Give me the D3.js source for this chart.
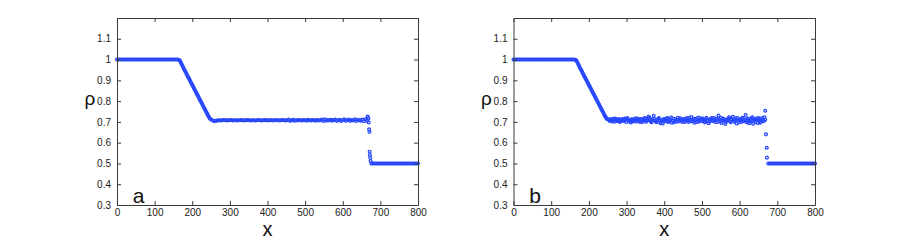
<!DOCTYPE html>
<html>
<head>
<meta charset="utf-8">
<script src="https://cdn.jsdelivr.net/npm/d3@7"></script>
<style>
  html, body { margin: 0; padding: 0; background: #fff; }
  svg { display: block; }
  text { font-family: "Liberation Sans", Arial, Helvetica, sans-serif; }
</style>
</head>
<body>
<svg id="chart" width="900" height="240"></svg>
<script>
// ---------------- DATA ----------------
const xTickLabels = [0, 100, 200, 300, 400, 500, 600, 700, 800];
const yTickLabels = [0.3, 0.4, 0.5, 0.6, 0.7, 0.8, 0.9, 1, 1.1];
const panelLabels = ["a", "b"];

// sampling grid (x positions of the particles)
const xGrid = [
  0,4,8,12,16,20,24,28,32,36,
  40,44,48,52,56,60,64,68,72,76,
  80,84,88,92,96,100,104,108,112,116,
  120,124,128,132,136,140,144,148,152,156,
  160,164,168,172,176,180,184,188,192,196,
  200,204,208,212,216,220,224,228,232,236,
  240,244,248,252,256,260,264,268,272,276,
  280,284,288,292,296,300,304,308,312,316,
  320,324,328,332,336,340,344,348,352,356,
  360,364,368,372,376,380,384,388,392,396,
  400,404,408,412,416,420,424,428,432,436,
  440,444,448,452,456,460,464,468,472,476,
  480,484,488,492,496,500,504,508,512,516,
  520,524,528,532,536,540,544,548,552,556,
  560,564,568,572,576,580,584,588,592,596,
  600,604,608,612,616,620,624,628,632,636,
  640,644,648,652,656,660,664,668,672,676,
  680,684,688,692,696,700,704,708,712,716,
  720,724,728,732,736,740,744,748,752,756,
  760,764,768,772,776,780,784,788,792,796,
  800
];

// extra particles between grid points in the rarefaction fan (both panels)
const rampMidX = [166,170,174,178,182,186,190,194,198,202,206,
                  210,214,218,222,226,230,234,238,242,246];
const rampMidRho = [0.997,0.985,0.970,0.955,0.941,0.927,0.913,0.899,0.885,0.871,0.857,
                    0.843,0.829,0.815,0.801,0.787,0.773,0.759,0.745,0.731,0.719];

// panel a density
const rhoA = [
  // 0 .. 160
  1,1,1,1,1,1,1,1,1,1, 1,1,1,1,1,1,1,1,1,1,
  1,1,1,1,1,1,1,1,1,1, 1,1,1,1,1,1,1,1,1,1, 1,
  // 164 .. 248 rarefaction
  0.999,0.992,0.977,0.962,0.948,0.934,0.920,0.906,0.892,0.878,0.864,
  0.850,0.836,0.822,0.808,0.794,0.780,0.766,0.752,0.738,0.725,0.714,
  // 252 .. 668 plateau
  0.709,0.705,0.704,0.706,0.707,0.708,0.707,0.708,0.709,0.708,
  0.707,0.708,0.708,0.709,0.707,0.708,0.708,0.707,0.708,0.709,
  0.708,0.707,0.708,0.708,0.709,0.708,0.707,0.708,0.708,0.707,
  0.708,0.709,0.708,0.707,0.708,0.708,0.709,0.707,0.708,0.708,
  0.708,0.707,0.709,0.708,0.708,0.707,0.708,0.709,0.708,0.707,
  0.708,0.711,0.705,0.708,0.710,0.706,0.708,0.707,0.709,0.708,
  0.707,0.709,0.708,0.706,0.710,0.708,0.707,0.709,0.708,0.706,
  0.709,0.707,0.708,0.711,0.704,0.712,0.706,0.709,0.707,0.710,
  0.706,0.709,0.711,0.705,0.708,0.710,0.704,0.709,0.712,0.706,
  0.708,0.711,0.705,0.709,0.707,0.712,0.704,0.710,0.708,0.706,
  0.711,0.703,0.713,0.706,0.715,
  // 672 shock
  0.541,
  // 676 .. 800
  0.5,0.5,0.5,0.5,0.5,0.5,0.5,0.5,0.5,0.5,0.5,0.5,0.5,0.5,0.5,0.5,
  0.5,0.5,0.5,0.5,0.5,0.5,0.5,0.5,0.5,0.5,0.5,0.5,0.5,0.5,0.5,0.5
];
const shockXA   = [666, 668, 669, 670, 671, 671.5, 673, 674];
const shockRhoA = [0.726, 0.717, 0.697, 0.664, 0.653, 0.556, 0.527, 0.512];

// panel b density
const rhoB = [
  // 0 .. 160
  1,1,1,1,1,1,1,1,1,1, 1,1,1,1,1,1,1,1,1,1,
  1,1,1,1,1,1,1,1,1,1, 1,1,1,1,1,1,1,1,1,1, 1,
  // 164 .. 248 rarefaction
  0.999,0.992,0.977,0.962,0.948,0.934,0.920,0.906,0.892,0.878,0.864,
  0.850,0.836,0.822,0.808,0.794,0.780,0.766,0.752,0.738,0.725,0.714,
  // 252 .. 668 plateau
  0.712,0.704,0.709,0.715,0.701,0.710,0.706,0.714,0.703,0.711,
  0.705,0.716,0.700,0.712,0.707,0.697,0.713,0.704,0.717,0.702,
  0.710,0.699,0.714,0.706,0.718,0.701,0.709,0.722,0.703,0.712,
  0.729,0.705,0.698,0.715,0.708,0.700,0.692,0.713,0.706,0.719,
  0.702,0.711,0.696,0.716,0.707,0.701,0.720,0.704,0.712,0.699,
  0.714,0.706,0.718,0.700,0.709,0.723,0.703,0.696,0.715,0.707,
  0.701,0.717,0.705,0.711,0.697,0.720,0.708,0.702,0.714,0.706,
  0.719,0.700,0.712,0.731,0.704,0.695,0.716,0.708,0.701,0.713,
  0.722,0.698,0.710,0.705,0.717,0.692,0.709,0.714,0.700,0.720,
  0.706,0.733,0.697,0.713,0.702,0.719,0.691,0.710,0.716,0.695,
  0.712,0.700,0.718,0.704,0.710,
  // 672 shock
  0.576,
  // 676 .. 800
  0.5,0.5,0.5,0.5,0.5,0.5,0.5,0.5,0.5,0.5,0.5,0.5,0.5,0.5,0.5,0.5,
  0.5,0.5,0.5,0.5,0.5,0.5,0.5,0.5,0.5,0.5,0.5,0.5,0.5,0.5,0.5,0.5
];
// additional particles in the noisy plateau of panel b
const plateauXB = [
  254,258,262,266,270,274,278,282,286,290,
  294,298,302,306,310,314,318,322,326,330,
  334,338,342,346,350,354,358,362,366,370,
  374,378,382,386,390,394,398,402,406,410,
  414,418,422,426,430,434,438,442,446,450,
  454,458,462,466,470,474,478,482,486,490,
  494,498,502,506,510,514,518,522,526,530,
  534,538,542,546,550,554,558,562,566,570,
  574,578,582,586,590,594,598,602,606,610,
  614,618,622,626,630,634,638,642,646,650,
  654,658,662,666
];
const plateauRhoB = [
  0.707,0.713,0.702,0.709,0.716,0.704,0.711,0.699,0.708,0.714,
  0.703,0.710,0.719,0.706,0.700,0.713,0.708,0.702,0.711,0.716,
  0.704,0.712,0.700,0.709,0.715,0.706,0.725,0.711,0.698,0.708,
  0.714,0.701,0.710,0.719,0.694,0.708,0.712,0.703,0.716,0.700,
  0.709,0.721,0.705,0.698,0.713,0.710,0.702,0.717,0.707,0.711,
  0.700,0.712,0.706,0.719,0.703,0.710,0.715,0.708,0.699,0.721,
  0.710,0.704,0.716,0.701,0.713,0.707,0.694,0.712,0.718,0.703,
  0.708,0.715,0.699,0.711,0.720,0.705,0.712,0.690,0.709,0.716,
  0.704,0.713,0.725,0.701,0.710,0.718,0.697,0.707,0.715,0.703,
  0.712,0.700,0.716,0.694,0.708,0.722,0.705,0.699,0.713,0.718,
  0.696,0.714,0.703,0.722
];
const shockXB   = [668, 670, 672.5];
const shockRhoB = [0.754, 0.640, 0.528];

// ---------------- DRAW ----------------
const svg = d3.select("#chart");
const plotTop = 18, plotBottom = 205;
const panels = [
  { left: 117, right: 418, label: panelLabels[0],
    xs: xGrid.concat(rampMidX, shockXA), ys: rhoA.concat(rampMidRho, shockRhoA) },
  { left: 513.5, right: 815, label: panelLabels[1],
    xs: xGrid.concat(rampMidX, plateauXB, shockXB),
    ys: rhoB.concat(rampMidRho, plateauRhoB, shockRhoB) }
];

const axisColor = "#3a3a3a";
const dotColor = "#2646ff";

panels.forEach(p => {
  const x = d3.scaleLinear().domain([0, 800]).range([p.left, p.right]);
  const y = d3.scaleLinear().domain([0.3, 1.2]).range([plotBottom, plotTop]);
  const g = svg.append("g");

  // points
  const pts = p.xs.map((v, i) => [v, p.ys[i]]);
  g.append("g").selectAll("circle").data(pts).join("circle")
    .attr("cx", d => x(d[0]))
    .attr("cy", d => y(d[1]))
    .attr("r", 1.4)
    .attr("fill", "none")
    .attr("stroke", dotColor)
    .attr("stroke-width", 1.25);

  const fmt = d => String(d);
  const ax = g.append("g").attr("transform", `translate(0,${plotBottom})`)
    .call(d3.axisBottom(x).tickValues(xTickLabels).tickFormat(fmt)
      .tickSizeInner(-4).tickSizeOuter(0).tickPadding(4));
  const ay = g.append("g").attr("transform", `translate(${p.left},0)`)
    .call(d3.axisLeft(y).tickValues(yTickLabels).tickFormat(fmt)
      .tickSizeInner(-4).tickSizeOuter(0).tickPadding(6));
  const at = g.append("g").attr("transform", `translate(0,${plotTop})`)
    .call(d3.axisTop(x).tickValues(xTickLabels).tickFormat("")
      .tickSizeInner(-4).tickSizeOuter(0));
  const ar = g.append("g").attr("transform", `translate(${p.right},0)`)
    .call(d3.axisRight(y).tickValues(yTickLabels).tickFormat("")
      .tickSizeInner(-4).tickSizeOuter(0));

  [ax, ay, at, ar].forEach(a => {
    a.selectAll("path.domain").attr("stroke", axisColor).attr("stroke-width", 1);
    a.selectAll(".tick line").attr("stroke", axisColor).attr("stroke-width", 1);
    a.selectAll(".tick text").attr("fill", "#222").style("font-size", "10px")
      .style("font-family", '"Liberation Sans", Arial, sans-serif');
  });

  g.append("text")
    .attr("x", (p.left + p.right) / 2).attr("y", 236)
    .attr("text-anchor", "middle")
    .style("font-size", "20px").attr("fill", "#111")
    .text("x");
  g.append("text")
    .attr("x", p.left - 27).attr("y", 105)
    .attr("text-anchor", "middle")
    .style("font-size", "19px").attr("fill", "#111")
    .text("ρ");
  g.append("text")
    .attr("x", x(42)).attr("y", 203)
    .attr("text-anchor", "start")
    .style("font-size", "21px").attr("fill", "#111")
    .text(p.label);
});
</script>
</body>
</html>
